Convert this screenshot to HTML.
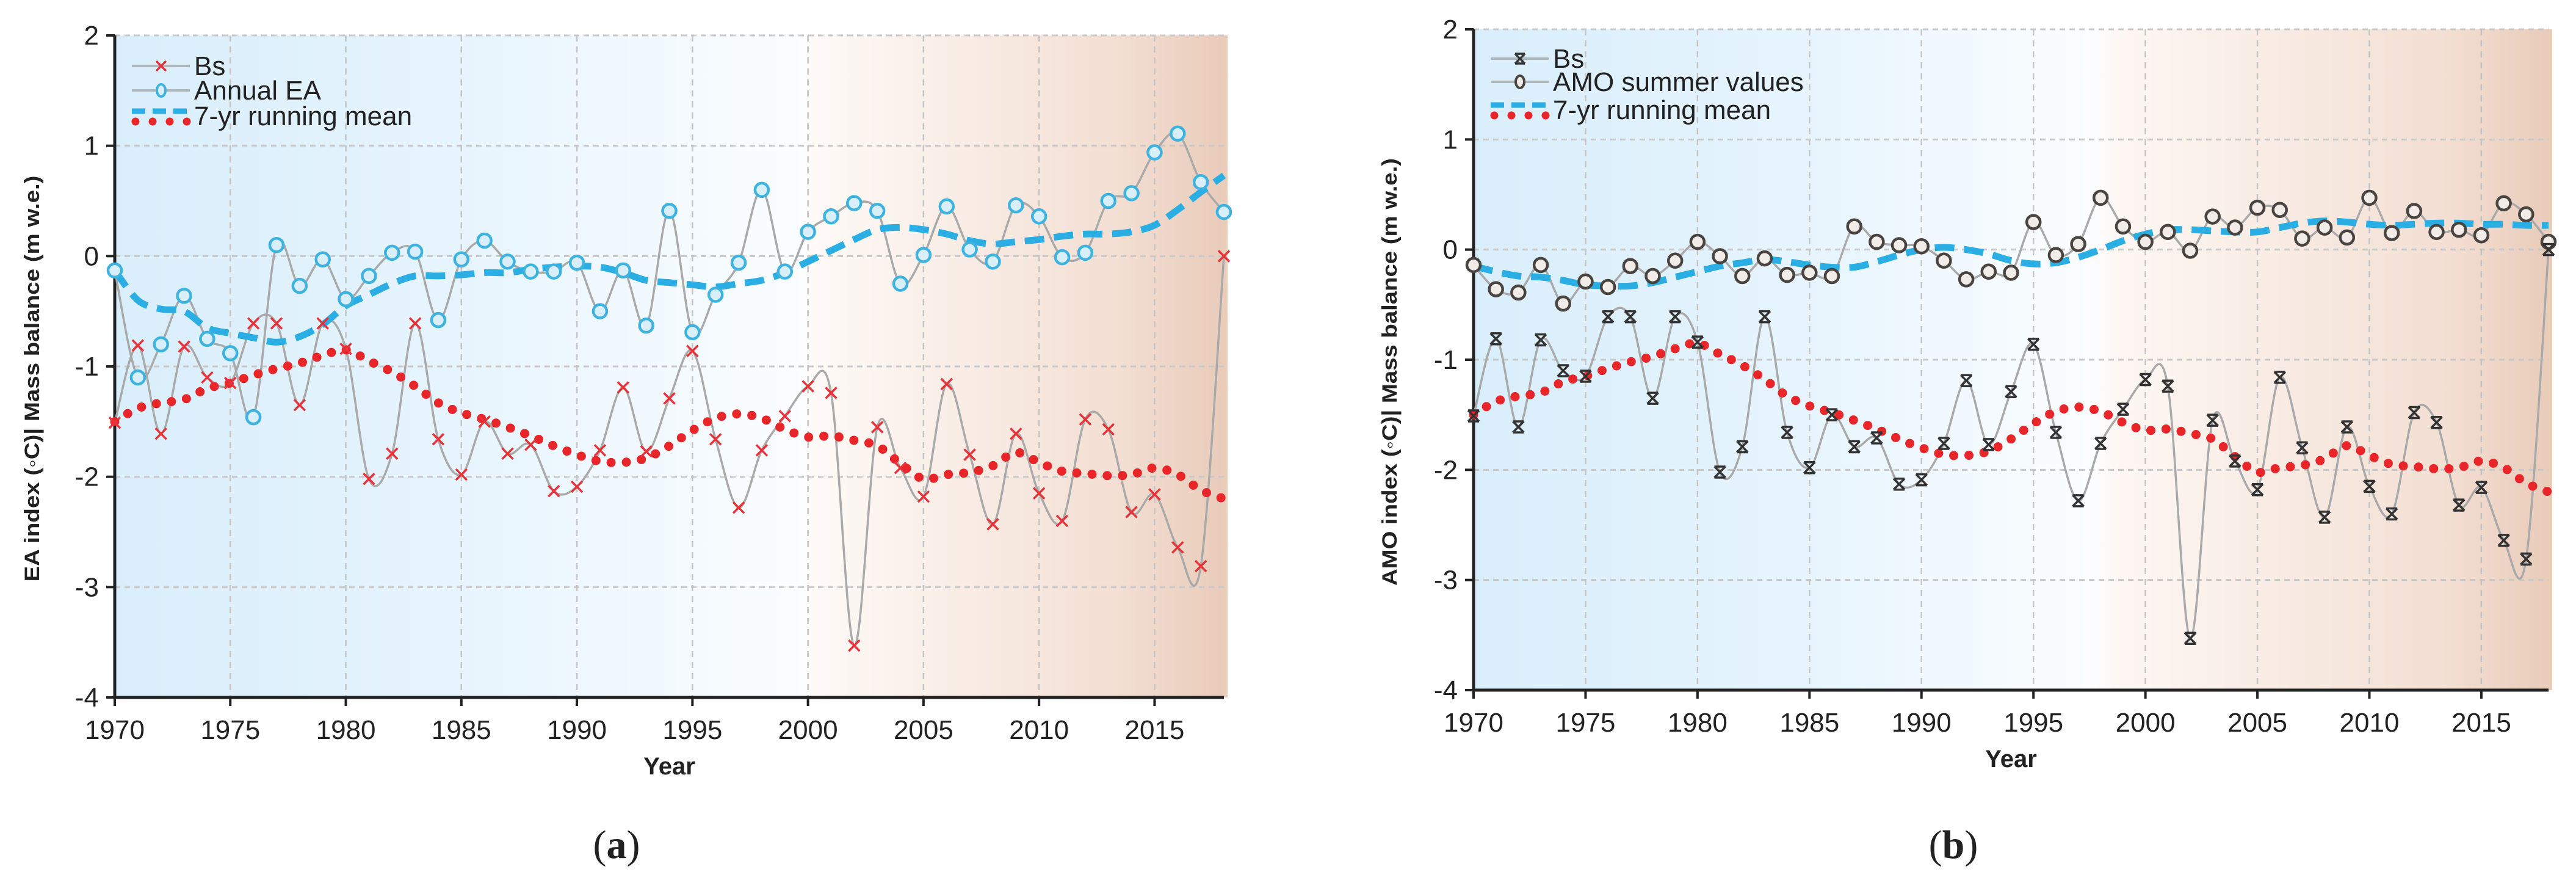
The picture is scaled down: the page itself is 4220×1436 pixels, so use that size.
<!DOCTYPE html>
<html><head><meta charset="utf-8"><style>
html,body{margin:0;padding:0;background:#fff;}
svg{display:block;}
text{font-family:"Liberation Sans Narrow","Liberation Sans",sans-serif;fill:#222;}
</style></head><body>
<svg id="fig" width="4220" height="1436" viewBox="0 0 4220 1436" xmlns="http://www.w3.org/2000/svg">
<defs>
<linearGradient id="bgA" x1="0" x2="1" y1="0" y2="0">
<stop offset="0" stop-color="#d9eefb"/><stop offset="0.3" stop-color="#e6f4fd"/><stop offset="0.62" stop-color="#fbfdff"/><stop offset="0.625" stop-color="#fefaf7"/><stop offset="0.9" stop-color="#f3dfd3"/><stop offset="1" stop-color="#e9cbb9"/>
</linearGradient>
<linearGradient id="bgB" x1="0" x2="1" y1="0" y2="0">
<stop offset="0" stop-color="#d9eefb"/><stop offset="0.3" stop-color="#e6f4fd"/><stop offset="0.57" stop-color="#fbfdff"/><stop offset="0.6" stop-color="#fdf7f3"/><stop offset="0.9" stop-color="#f3dfd3"/><stop offset="1" stop-color="#e9cbb9"/>
</linearGradient>
</defs>
</svg>
<script>
const years = [1970,1971,1972,1973,1974,1975,1976,1977,1978,1979,1980,1981,1982,1983,1984,1985,1986,1987,1988,1989,1990,1991,1992,1993,1994,1995,1996,1997,1998,1999,2000,2001,2002,2003,2004,2005,2006,2007,2008,2009,2010,2011,2012,2013,2014,2015,2016,2017,2018];
const bsValues = [-1.51,-0.81,-1.61,-0.82,-1.10,-1.15,-0.61,-0.61,-1.35,-0.61,-0.84,-2.02,-1.79,-0.61,-1.66,-1.98,-1.50,-1.79,-1.71,-2.13,-2.09,-1.76,-1.19,-1.77,-1.29,-0.86,-1.66,-2.28,-1.76,-1.45,-1.18,-1.24,-3.53,-1.55,-1.92,-2.18,-1.16,-1.80,-2.43,-1.61,-2.15,-2.40,-1.48,-1.57,-2.32,-2.16,-2.64,-2.81,0.00];
const bsMean = [-1.5,-1.38,-1.33,-1.3,-1.2,-1.15,-1.08,-1.02,-0.97,-0.9,-0.85,-0.95,-1.05,-1.18,-1.33,-1.42,-1.48,-1.55,-1.63,-1.72,-1.8,-1.86,-1.87,-1.83,-1.72,-1.58,-1.47,-1.43,-1.47,-1.57,-1.64,-1.63,-1.67,-1.72,-1.88,-2.02,-1.98,-1.96,-1.9,-1.78,-1.87,-1.95,-1.97,-1.99,-1.98,-1.92,-1.98,-2.12,-2.2];
const eaValues = [-0.13,-1.10,-0.80,-0.36,-0.75,-0.88,-1.46,0.10,-0.27,-0.03,-0.39,-0.18,0.03,0.04,-0.58,-0.03,0.14,-0.05,-0.14,-0.14,-0.06,-0.50,-0.13,-0.63,0.41,-0.69,-0.35,-0.06,0.60,-0.14,0.22,0.36,0.48,0.41,-0.25,0.01,0.45,0.06,-0.05,0.46,0.36,-0.01,0.03,0.50,0.57,0.94,1.11,0.67,0.40];
const eaMean = [-0.13,-0.4,-0.48,-0.5,-0.65,-0.7,-0.74,-0.78,-0.73,-0.62,-0.45,-0.35,-0.25,-0.18,-0.18,-0.17,-0.15,-0.15,-0.12,-0.1,-0.09,-0.1,-0.15,-0.22,-0.24,-0.26,-0.28,-0.25,-0.22,-0.15,-0.05,0.05,0.15,0.24,0.26,0.24,0.2,0.14,0.11,0.13,0.15,0.18,0.2,0.2,0.22,0.28,0.42,0.58,0.73];
const amoValues = [-0.14,-0.36,-0.39,-0.14,-0.49,-0.29,-0.34,-0.15,-0.24,-0.10,0.07,-0.06,-0.24,-0.08,-0.23,-0.21,-0.24,0.21,0.07,0.04,0.03,-0.10,-0.27,-0.20,-0.21,0.25,-0.05,0.05,0.47,0.21,0.07,0.16,-0.01,0.30,0.20,0.38,0.36,0.10,0.20,0.11,0.47,0.15,0.35,0.16,0.18,0.13,0.42,0.32,0.07];
const amoMean = [-0.15,-0.2,-0.24,-0.25,-0.28,-0.32,-0.33,-0.33,-0.3,-0.25,-0.2,-0.15,-0.12,-0.09,-0.11,-0.14,-0.16,-0.16,-0.11,-0.05,0.0,0.02,0.0,-0.04,-0.1,-0.13,-0.12,-0.07,0.0,0.08,0.14,0.18,0.18,0.17,0.16,0.16,0.2,0.24,0.26,0.25,0.23,0.22,0.23,0.24,0.24,0.23,0.23,0.22,0.22];
const xTicks = [1970,1975,1980,1985,1990,1995,2000,2005,2010,2015];
const yTicks = [2,1,0,-1,-2,-3,-4];

const NS='http://www.w3.org/2000/svg';
const svg=document.getElementById('fig');
function mk(tag,attrs,parent){const e=document.createElementNS(NS,tag);for(const k in attrs)e.setAttribute(k,attrs[k]);(parent||svg).appendChild(e);return e;}
function smooth(pts){let d='M'+pts[0][0]+','+pts[0][1];for(let i=0;i<pts.length-1;i++){const p0=pts[i-1]||pts[i],p1=pts[i],p2=pts[i+1],p3=pts[i+2]||p2;const c1x=p1[0]+(p2[0]-p0[0])/6,c1y=p1[1]+(p2[1]-p0[1])/6,c2x=p2[0]-(p3[0]-p1[0])/6,c2y=p2[1]-(p3[1]-p1[1])/6;d+=' C'+c1x+','+c1y+' '+c2x+','+c2y+' '+p2[0]+','+p2[1];}return d;}

function panel(cfg){
  const g=mk('g',{});
  
  
  const X=v=>cfg.x0+(v-1970)/(2018-1970)*(cfg.x1-cfg.x0);
  const Y=v=>cfg.yTop+(2-v)/6*(cfg.yBot-cfg.yTop);
  const bg=mk('rect',{x:cfg.x0,y:cfg.yTop,width:cfg.x1-cfg.x0+6,height:cfg.yBot-cfg.yTop,fill:'url(#'+cfg.grad+')'},g);
  
  
  yTicks.forEach(t=>{
    if(t!==-4){const l=mk('line',{x1:cfg.x0,x2:cfg.x1,y1:Y(t),y2:Y(t),stroke:'#c9c9c9','stroke-width':3,'stroke-dasharray':'9 7'},g);
    
    }
    mk('line',{x1:cfg.x0-14,x2:cfg.x0,y1:Y(t),y2:Y(t),stroke:'#222','stroke-width':4},g);
    const tx=mk('text',{x:cfg.x0-26,y:Y(t)+15,'font-size':44,'text-anchor':'end'},g);tx.textContent=t;
    
    
  });
  xTicks.forEach(t=>{
    if(t!==1970){const l=mk('line',{x1:X(t),x2:X(t),y1:cfg.yTop,y2:cfg.yBot,stroke:'#c4c4c4','stroke-width':2.5,'stroke-dasharray':'10 8'},g);
    
    }
    mk('line',{x1:X(t),x2:X(t),y1:cfg.yBot,y2:cfg.yBot+14,stroke:'#222','stroke-width':4},g);
    const tx=mk('text',{x:X(t),y:cfg.yBot+68,'font-size':44,'text-anchor':'middle'},g);tx.textContent=t;
    
    
  });
  const ax=mk('path',{d:'M'+cfg.x0+','+cfg.yTop+' V'+cfg.yBot+' H'+(cfg.x1),stroke:'#222','stroke-width':5,fill:'none'},g);
  
  
  const bsPts=years.map((y,i)=>[X(y),Y(bsValues[i])]);
  const idxPts=years.map((y,i)=>[X(y),Y(cfg.idx[i])]);
  let p=mk('path',{d:smooth(bsPts),stroke:'#a9a9a9','stroke-width':3.5,fill:'none'},g);
  
  
  p=mk('path',{d:smooth(idxPts),stroke:'#a9a9a9','stroke-width':3.5,fill:'none'},g);
  
  
  p=mk('path',{d:smooth(years.map((y,i)=>[X(y),Y(cfg.idxMean[i])])),stroke:'#2aaee4','stroke-width':11,fill:'none','stroke-dasharray':'32 16'},g);
  
  
  p=mk('path',{d:smooth(years.map((y,i)=>[X(y),Y(bsMean[i])])),stroke:'#e8262a','stroke-width':15,fill:'none','stroke-dasharray':'0 25','stroke-linecap':'round'},g);
  
  
  idxPts.forEach(pt=>{
    const c=mk('circle',{cx:pt[0],cy:pt[1],r:11,fill:cfg.circFill,stroke:cfg.circStroke,'stroke-width':4.5},g);
    
    
  });
  bsPts.forEach(pt=>{
    const s=9;let d='M'+(pt[0]-s)+','+(pt[1]-s)+' L'+(pt[0]+s)+','+(pt[1]+s)+' M'+(pt[0]+s)+','+(pt[1]-s)+' L'+(pt[0]-s)+','+(pt[1]+s);
    if(cfg.star)d+=' M'+(pt[0]-s)+','+(pt[1]-s)+' H'+(pt[0]+s)+' M'+(pt[0]-s)+','+(pt[1]+s)+' H'+(pt[0]+s);
    const m=mk('path',{d:d,stroke:cfg.xColor,'stroke-width':3.5,fill:'none'},g);
    
    
  });
  const lg=mk('g',{},g);
  
  
  const lx=cfg.x0+28, tx0=cfg.x0+130;
  mk('line',{x1:lx,x2:lx+95,y1:cfg.ly[0],y2:cfg.ly[0],stroke:'#b0b7bb','stroke-width':4},lg);
  const s=8,cx=lx+48,cy=cfg.ly[0];
  let d='M'+(cx-s)+','+(cy-s)+' L'+(cx+s)+','+(cy+s)+' M'+(cx+s)+','+(cy-s)+' L'+(cx-s)+','+(cy+s);
  if(cfg.star)d+=' M'+(cx-s)+','+(cy-s)+' H'+(cx+s)+' M'+(cx-s)+','+(cy+s)+' H'+(cx+s);
  mk('path',{d:d,stroke:cfg.xColor,'stroke-width':3.5,fill:'none'},lg);
  mk('line',{x1:lx,x2:lx+95,y1:cfg.ly[1],y2:cfg.ly[1],stroke:'#b0b7bb','stroke-width':4},lg);
  mk('ellipse',{cx:lx+48,cy:cfg.ly[1],rx:7,ry:10,fill:cfg.circFill,stroke:cfg.circStroke,'stroke-width':4},lg);
  mk('line',{x1:lx,x2:lx+95,y1:cfg.ly[2]-8,y2:cfg.ly[2]-8,stroke:'#2aaee4','stroke-width':9,'stroke-dasharray':'22 12'},lg);
  mk('line',{x1:lx+6,x2:lx+100,y1:cfg.ly[2]+9,y2:cfg.ly[2]+9,stroke:'#e8262a','stroke-width':13,'stroke-dasharray':'0 28','stroke-linecap':'round'},lg);
  cfg.labels.forEach((t,i)=>{const e=mk('text',{x:tx0,y:cfg.ly[i]+15,'font-size':44,fill:'#3a454b'},lg);e.textContent=t;
    
    });
  const yt=mk('text',{x:0,y:0,'font-size':34,'font-weight':'bold','text-anchor':'middle',transform:'translate('+cfg.ytx+','+((cfg.yTop+cfg.yBot)/2+20)+') rotate(-90)',style:'font-family:"Liberation Sans",sans-serif',textLength:cfg.ytLen,lengthAdjust:'spacingAndGlyphs'},g);
  yt.textContent=cfg.ytitle;
  
  
  const xt=mk('text',{x:(cfg.x0+cfg.x1)/2,y:cfg.yBot+126,'font-size':40,'font-weight':'bold','text-anchor':'middle'},g);
  xt.textContent='Year';
  
  
  const cap=mk('text',{x:cfg.capX,y:1405,'font-size':66,'text-anchor':'middle',style:'font-family:"Liberation Serif",serif'},g);
  cap.innerHTML='(<tspan font-weight="bold">'+cfg.cap+'</tspan>)';
  
  
}
panel({name:'panel-a',x0:188,x1:2005,yTop:58,yBot:1142,grad:'bgA',idx:eaValues,idxMean:eaMean,idxName:'annual-ea',circFill:'#d8eef8',circStroke:'#3fb3e0',xColor:'#e8323a',star:false,ly:[108,148,190],labels:['Bs','Annual EA','7-yr running mean'],ytitle:'EA index (◦C)| Mass balance (m w.e.)',ytx:64,ytLen:665,cap:'a',capX:1010});
panel({name:'panel-b',x0:2414,x1:4175,yTop:48,yBot:1130,grad:'bgB',idx:amoValues,idxMean:amoMean,idxName:'amo-summer',circFill:'#f2ece8',circStroke:'#4a4441',xColor:'#333',star:true,ly:[96,134,180],labels:['Bs','AMO summer values','7-yr running mean'],ytitle:'AMO index (◦C)| Mass balance (m w.e.)',ytx:2288,ytLen:700,cap:'b',capX:3200});
</script>
</body></html>
